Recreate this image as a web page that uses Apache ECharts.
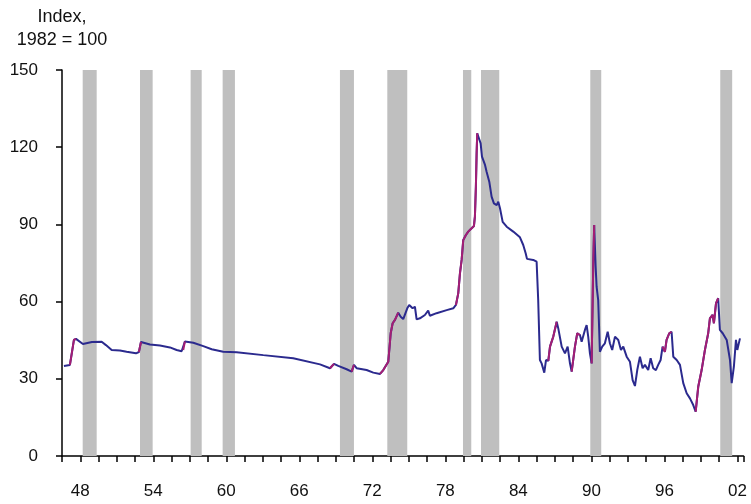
<!DOCTYPE html>
<html>
<head>
<meta charset="utf-8">
<script src="https://cdn.jsdelivr.net/npm/echarts@6/dist/echarts.min.js"></script>
<style>
html,body{margin:0;padding:0;background:#fff;}
#chart{width:751px;height:504px;}
</style>
</head>
<body>
<div id="chart"></div>
<script>
// ---- data ----
const years = [1946.66,1947.15,1947.32,1947.48,1947.65,1948.22,1948.96,1949.76,1950.11,1950.58,1951.26,1951.81,1952.58,1952.82,1952.99,1953.73,1954.55,1955.37,1955.92,1956.33,1956.46,1956.60,1957.29,1958.11,1958.80,1959.75,1960.85,1963.04,1965.50,1967.70,1968.52,1968.85,1969.20,1969.89,1970.30,1970.49,1970.71,1971.53,1972.08,1972.63,1972.90,1973.31,1973.51,1973.67,1973.86,1974.13,1974.33,1974.54,1974.87,1975.03,1975.31,1975.50,1975.64,1975.91,1976.32,1976.59,1976.73,1977.28,1978.11,1978.65,1978.87,1979.06,1979.20,1979.34,1979.47,1979.69,1979.88,1980.16,1980.35,1980.43,1980.51,1980.57,1980.62,1980.74,1980.90,1981.01,1981.26,1981.39,1981.61,1981.80,1981.99,1982.22,1982.35,1982.49,1982.71,1983.04,1983.58,1984.13,1984.40,1984.60,1984.71,1985.22,1985.50,1985.63,1985.77,1985.91,1986.13,1986.27,1986.46,1986.60,1986.87,1987.15,1987.28,1987.56,1987.83,1988.05,1988.24,1988.38,1988.65,1988.84,1989.06,1989.20,1989.47,1989.61,1989.74,1989.88,1990.02,1990.15,1990.23,1990.35,1990.43,1990.56,1990.70,1990.89,1991.11,1991.34,1991.52,1991.71,1991.94,1992.21,1992.43,1992.62,1992.90,1993.17,1993.39,1993.58,1993.77,1993.99,1994.21,1994.40,1994.67,1994.87,1995.08,1995.30,1995.49,1995.69,1995.85,1996.04,1996.18,1996.40,1996.59,1996.73,1997.01,1997.28,1997.55,1997.83,1998.10,1998.37,1998.57,1998.78,1999.06,1999.33,1999.60,1999.74,1999.96,2000.07,2000.24,2000.42,2000.56,2000.79,2001.12,2001.39,2001.53,2001.71,2001.88,2001.99,2002.21];
const values = [35.0,35.4,40.4,45.1,45.5,43.5,44.3,44.4,43.1,41.2,41.0,40.5,39.9,40.4,44.3,43.3,42.9,42.2,41.2,40.7,41.2,44.5,44.0,42.7,41.5,40.5,40.3,39.2,38.0,35.6,34.1,35.8,35.0,33.7,32.8,35.4,34.1,33.4,32.4,31.9,33.4,36.6,47.7,51.6,52.9,55.7,54.1,53.2,57.4,58.7,57.4,58.0,53.1,53.5,54.8,56.5,54.5,55.5,56.7,57.4,58.7,63.2,71.0,76.2,83.9,85.9,87.2,88.5,89.4,93.0,104.7,117.6,125.4,124.7,121.5,116.3,113.1,110.5,106.6,100.8,98.2,97.5,98.8,96.3,91.0,89.1,87.2,85.0,82.0,78.8,76.6,76.2,75.5,60.6,37.3,36.0,32.4,37.3,37.0,42.5,46.4,52.2,49.6,42.5,39.9,42.5,36.0,32.8,42.5,47.7,47.0,44.4,49.0,50.9,46.4,39.9,36.0,73.6,89.8,73.6,65.8,60.6,40.5,42.5,43.8,48.3,43.8,41.2,46.4,45.1,41.2,42.5,38.6,36.6,29.5,27.2,33.4,38.6,34.1,35.4,33.4,38.0,34.1,33.4,35.4,37.3,42.5,40.5,45.1,47.7,48.3,38.6,37.3,35.4,28.3,24.4,22.4,19.8,17.2,26.9,33.4,41.2,47.7,53.5,54.8,51.6,59.3,61.3,49.0,47.7,45.1,37.3,28.3,34.7,45.1,41.2,45.7];
// periods drawn in magenta
const highlightStart = [1947.15,1952.82,1956.46,1968.52,1970.30,1972.63,1978.87,1986.46,1988.38,1990.02,1995.85,1998.57];
const highlightEnd   = [1947.65,1952.99,1956.60,1968.85,1970.49,1974.13,1980.62,1987.15,1989.06,1990.23,1996.59,2000.42];
// shaded periods
const shadeStart = [1948.20,1952.91,1957.07,1959.70,1969.34,1973.23,1979.45,1980.93,1989.91,2000.59];
const shadeEnd   = [1949.35,1953.95,1957.98,1960.71,1970.49,1974.87,1980.13,1982.43,1990.81,2001.57];
const yTicks = [0,30,60,90,120,150];
const labelYears = [1948,1954,1960,1966,1972,1978,1984,1990,1996,2002];

// ---- build ----
const BASE = 1946.5;
const FONT = 'Liberation Sans, Arial, sans-serif';
const mainData = years.map((y,i)=>[+(y-BASE).toFixed(3), values[i]]);
function inHL(y){
  for(let k=0;k<highlightStart.length;k++){
    if(y>=highlightStart[k]-1e-6 && y<=highlightEnd[k]+1e-6) return true;
  }
  return false;
}
const hlData = years.map((y,i)=>[+(y-BASE).toFixed(3), inHL(y)?values[i]:null]);
const areas = shadeStart.map((s,i)=>[{xAxis:s-BASE,yAxis:0},{xAxis:shadeEnd[i]-BASE,yAxis:151.5}]);

const chart = echarts.init(document.getElementById('chart'));
chart.setOption({
  backgroundColor:'#ffffff',
  animation:false,
  title:{
    text:'Index,\n1982 = 100',
    left:57, top:1,
    textAlign:'center',
    textStyle:{fontFamily:FONT,fontSize:18,fontWeight:'normal',color:'#111',lineHeight:23}
  },
  grid:{left:62,right:7.5,top:70,bottom:48,containLabel:false},
  xAxis:{
    type:'value',min:0,max:56,interval:1.5,
    axisLine:{lineStyle:{color:'#000',width:1.5}},
    axisTick:{show:true,length:6,lineStyle:{color:'#000',width:1.5}},
    splitLine:{show:false},
    axisLabel:{
      interval:0,margin:27,fontFamily:FONT,fontSize:17,color:'#111',
      formatter:function(v){
        const yr=Math.round((v+BASE)*2)/2;
        if(labelYears.indexOf(yr)>=0) return String(yr).slice(2);
        return '';
      }
    }
  },
  yAxis:{
    type:'value',min:yTicks[0],max:yTicks[yTicks.length-1],interval:30,
    axisLine:{show:true,lineStyle:{color:'#000',width:1.5}},
    axisTick:{show:true,length:6,lineStyle:{color:'#000',width:1.5}},
    splitLine:{show:false},
    axisLabel:{margin:24,fontFamily:FONT,fontSize:17,color:'#111'}
  },
  series:[
    {
      type:'line',data:[],clip:false,silent:true,
      markArea:{silent:true,itemStyle:{color:'#BFBFBF'},data:areas}
    },
    {
      type:'line',data:mainData,showSymbol:false,clip:false,
      lineStyle:{color:'#2B2A8E',width:2},z:3
    },
    {
      type:'line',data:hlData,showSymbol:false,connectNulls:false,clip:false,
      lineStyle:{color:'#A31E74',width:2},z:4
    }
  ]
});
</script>
</body>
</html>
